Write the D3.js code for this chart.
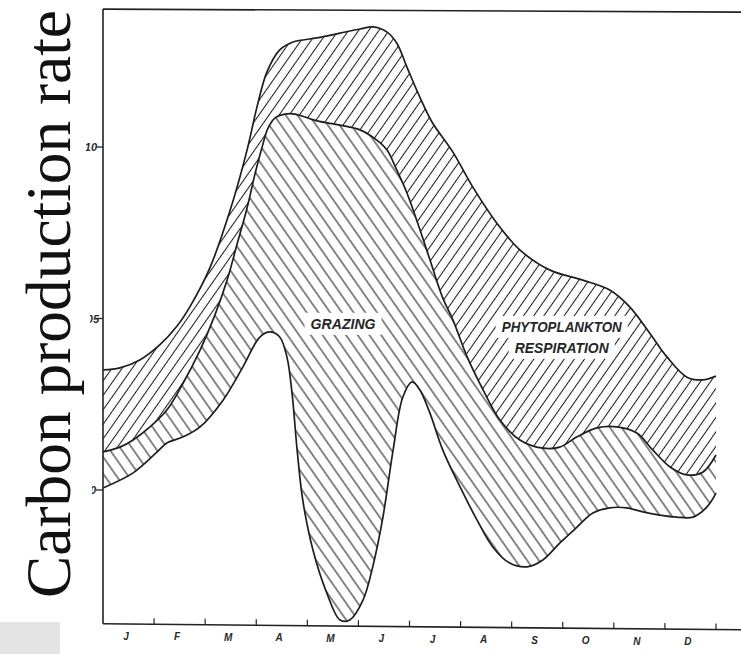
<!DOCTYPE html>
<html><head><meta charset="utf-8">
<script src="https://cdn.jsdelivr.net/npm/d3@7"></script>
<style>html,body{margin:0;padding:0;background:#fff;} svg{display:block}</style>
</head><body>
<svg id="c" width="741" height="654"></svg>
<script>
const months = ["J","F","M","A","M","J","J","A","S","O","N","D"];
const yTicks = [0, 0.05, 0.10];
const yTickLabels = ["0", ".05", ".10"];
const yLabel = "Carbon production rate";
const bandLabels = ["GRAZING", "PHYTOPLANKTON", "RESPIRATION"];

// upper boundary (gross production)
const grossT = [0,0.33,0.72,1.11,1.45,1.70,2.09,2.49,2.82,3.01,3.21,3.46,3.72,4.19,4.64,5.03,5.28,5.56,5.75,5.95,6.20,6.44,6.85,7.24,7.71,8.16,8.75,9.39,9.92,10.31,10.70,11.04,11.43,11.74,12];
const gross  = [0.0350,0.0356,0.0379,0.0423,0.0478,0.0534,0.0647,0.0816,0.0991,0.1114,0.1219,0.1283,0.1306,0.1318,0.1332,0.1344,0.1350,0.1335,0.1303,0.1233,0.1146,0.1073,0.0985,0.0883,0.0778,0.0700,0.0641,0.0612,0.0583,0.0534,0.0458,0.0388,0.0329,0.0321,0.0332];

// middle boundary (gross production minus phytoplankton respiration)
const afterRespT = [0,0.33,0.59,0.92,1.25,1.57,1.90,2.19,2.43,2.62,2.82,2.97,3.11,3.23,3.37,3.56,3.76,4.19,4.64,5.03,5.36,5.56,5.75,5.95,6.20,6.40,6.65,6.85,7.12,7.44,7.77,8.16,8.61,8.94,9.28,9.67,10.06,10.45,10.76,11.10,11.43,11.74,12];
const afterResp  = [0.0111,0.0125,0.0146,0.0184,0.0233,0.0312,0.0408,0.0510,0.0612,0.0714,0.0822,0.0918,0.0997,0.1055,0.1085,0.1096,0.1096,0.1076,0.1064,0.1050,0.1020,0.0991,0.0933,0.0866,0.0761,0.0671,0.0560,0.0496,0.0391,0.0292,0.0204,0.0146,0.0122,0.0125,0.0155,0.0181,0.0184,0.0166,0.0117,0.0067,0.0044,0.0052,0.0102];

// lower boundary (after grazing)
const netT = [0,0.59,1.06,1.25,1.57,1.90,2.35,2.74,3.07,3.27,3.46,3.60,3.70,3.80,3.91,4.11,4.38,4.64,4.83,5.09,5.28,5.48,5.68,5.87,6.05,6.20,6.40,6.65,6.99,7.32,7.63,7.96,8.30,8.61,8.94,9.28,9.59,9.92,10.25,10.57,10.90,11.23,11.55,11.82,12];
const net  = [0.0006,0.0050,0.0111,0.0137,0.0155,0.0184,0.0262,0.0359,0.0446,0.0461,0.0446,0.0388,0.0283,0.0117,-0.0029,-0.0175,-0.0300,-0.0379,-0.0379,-0.0321,-0.0224,-0.0079,0.0117,0.0271,0.0315,0.0292,0.0224,0.0117,0.0009,-0.0087,-0.0166,-0.0213,-0.0224,-0.0204,-0.0155,-0.0108,-0.0067,-0.0052,-0.0052,-0.0064,-0.0073,-0.0079,-0.0079,-0.0050,-0.0009];

// ---- drawing ----
const svg = d3.select("#c");
const x = d3.scaleLinear().domain([0, 12]).range([103, 716]);
const y = d3.scaleLinear().domain([0, 0.10]).range([490, 147]);
const yTop = y(0.1402), yBot = y(-0.0390);
const LETTER = "'Liberation Sans', Arial, sans-serif";

const defs = svg.append("defs");
function hatch(id, angle, spacing, sw) {
  const p = defs.append("pattern").attr("id", id).attr("patternUnits", "userSpaceOnUse")
    .attr("width", spacing).attr("height", 40).attr("patternTransform", `rotate(${angle})`);
  p.append("line").attr("x1", spacing/2).attr("x2", spacing/2).attr("y1", -5).attr("y2", 45)
    .attr("stroke", "#1a1a1a").attr("stroke-width", sw);
}
hatch("hUp", 35, 8.3, 1.05);
hatch("hDown", -35, 9.6, 1.05);
defs.append("clipPath").attr("id", "scan").append("rect").attr("x", 84).attr("y", 0).attr("width", 660).attr("height", 654);
const tickClipX = [92, 90, 86];
tickClipX.forEach((cx, i) => {
  defs.append("clipPath").attr("id", "tc" + i).append("rect").attr("x", cx).attr("y", 0).attr("width", 40).attr("height", 654);
});

const pts = (t, v) => t.map((d, i) => [x(d), y(v[i])]);
const line = d3.line().curve(d3.curveCatmullRom.alpha(0.5));
const P = { gross: pts(grossT, gross), mid: pts(afterRespT, afterResp), net: pts(netT, net) };
function band(a, b) {
  const pa = line(a);
  const pb = line(b.slice().reverse());
  return pa + "L" + pb.slice(1) + "Z";
}

const g = svg.append("g").attr("clip-path", "url(#scan)");
g.append("path").attr("d", band(P.gross, P.mid)).attr("fill", "url(#hUp)");
g.append("path").attr("d", band(P.mid, P.net)).attr("fill", "url(#hDown)");

// label knock-outs + labels
const lab = g.append("g").attr("font-family", LETTER)
  .attr("font-style", "italic").attr("font-weight", "bold").attr("font-size", 14).attr("fill", "#262626");
const labelSpecs = [
  { t: bandLabels[0], xm: 4.70, v: 0.0470, len: 65 },
  { t: bandLabels[1], xm: 8.98, v: 0.0461, len: 120 },
  { t: bandLabels[2], xm: 8.98, v: 0.0400, len: 94 }
];
const knock = lab.append("g");
labelSpecs.forEach(s => {
  const cx = x(s.xm), by = y(s.v);
  knock.append("rect").attr("x", cx - s.len/2 - 6).attr("y", by - 16).attr("width", s.len + 12).attr("height", 22).attr("fill", "#fff");
});
labelSpecs.forEach(s => {
  lab.append("text").attr("x", x(s.xm)).attr("y", y(s.v)).attr("text-anchor", "middle")
    .attr("textLength", s.len).attr("lengthAdjust", "spacingAndGlyphs").text(s.t);
});

// boundary curves
[P.gross, P.mid, P.net].forEach(p => {
  g.append("path").attr("d", line(p)).attr("fill", "none").attr("stroke", "#1e1e1e").attr("stroke-width", 1.7);
});

// frame
const fr = g.append("g").attr("stroke", "#222").attr("stroke-width", 1.6).attr("fill", "none");
fr.append("line").attr("x1", x(0)).attr("x2", 741).attr("y1", yTop).attr("y2", yTop + 3);
fr.append("line").attr("x1", x(0)).attr("x2", x(0)).attr("y1", yTop).attr("y2", yBot);
fr.append("line").attr("x1", x(0)).attr("x2", 741).attr("y1", yBot).attr("y2", yBot + 6);

// y axis ticks & labels
const yax = svg.append("g");
yTicks.forEach((v, i) => {
  yax.append("line").attr("x1", x(0) - 7).attr("x2", x(0)).attr("y1", y(v)).attr("y2", y(v)).attr("stroke", "#222").attr("stroke-width", 1.3);
});
yax.selectAll("text").data(yTicks).join("text")
  .attr("clip-path", (d, i) => `url(#tc${i})`)
  .attr("x", (d, i) => [96, 99, 97][i]).attr("y", d => y(d) + 4)
  .attr("text-anchor", "end").attr("font-family", LETTER)
  .attr("font-style", "italic").attr("font-weight", "bold").attr("font-size", 11).attr("fill", "#2a2a2a")
  .text((d, i) => yTickLabels[i]);

// x axis ticks & month labels
const xax = g.append("g");
d3.range(1, 13).forEach(k => {
  const yy = yBot + 6 * (x(k) - x(0)) / (741 - x(0));
  xax.append("line").attr("x1", x(k)).attr("x2", x(k)).attr("y1", yy).attr("y2", yy - 6).attr("stroke", "#222").attr("stroke-width", 1.2);
});
xax.selectAll("text").data(months).join("text")
  .attr("x", (d, i) => x(i + 0.45)).attr("y", (d, i) => yBot + 16 + 6 * (x(i + 0.45) - x(0)) / (741 - x(0)))
  .attr("text-anchor", "middle").attr("font-family", LETTER)
  .attr("font-style", "italic").attr("font-weight", "bold").attr("font-size", 10).attr("fill", "#2a2a2a").text(d => d);

// overlay: gray patch and big axis title
svg.append("rect").attr("x", 0).attr("y", 622).attr("width", 60).attr("height", 32).attr("fill", "#e4e4e4");
svg.append("text").attr("transform", "translate(70,598) rotate(-90)")
  .attr("font-family", "'Liberation Serif', 'Times New Roman', serif").attr("font-size", 64)
  .attr("fill", "#111").attr("textLength", 588).attr("lengthAdjust", "spacingAndGlyphs").text(yLabel);
</script>
</body></html>
